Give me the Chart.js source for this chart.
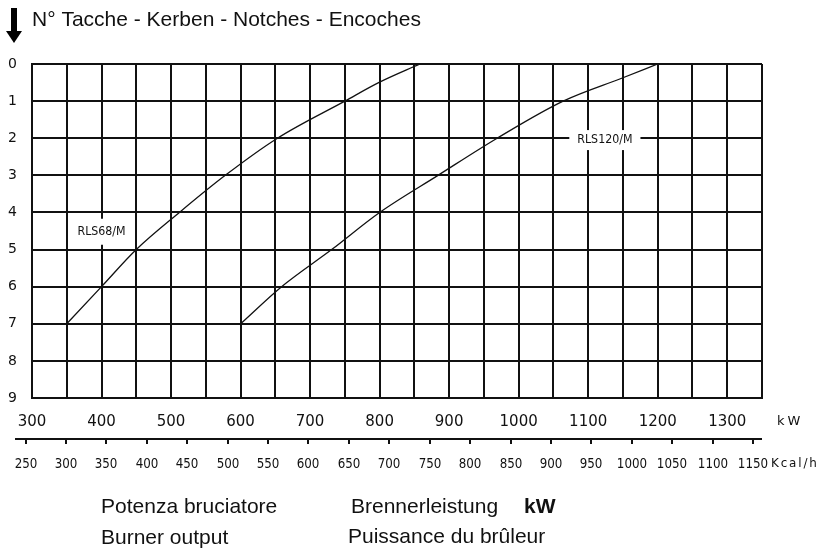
<!DOCTYPE html>
<html>
<head>
<meta charset="utf-8">
<script src="https://cdn.jsdelivr.net/npm/chart.js@4.4.1/dist/chart.umd.min.js"></script>
<style>
  html, body { margin: 0; padding: 0; background: #fff; }
  canvas { display: block; }
</style>
</head>
<body>
<canvas id="notchChart" width="821" height="549"></canvas>
<script>
// notch number (top = 0) against burner output
const notchLabels = ['0', '1', '2', '3', '4', '5', '6', '7', '8', '9'];
const kwTicks = [300, 400, 500, 600, 700, 800, 900, 1000, 1100, 1200, 1300];
const kcalTicks = [250, 300, 350, 400, 450, 500, 550, 600, 650, 700, 750, 800, 850, 900, 950, 1000, 1050, 1100, 1150];

const rls68Kw = [350, 400, 450, 512, 578, 653, 750, 800, 858];
const rls68Notch = [7, 6, 5, 4, 3, 2, 1, 0.49, 0];
const rls120Kw = [600, 659, 731, 800, 884, 969, 1064, 1150, 1200];
const rls120Notch = [7, 6, 5, 4, 3, 2, 1, 0.37, 0];

const curveLabels = [
  { text: 'RLS68/M', kw: 400, notch: 4.52, padX: 4, padY: 13 },
  { text: 'RLS120/M', kw: 1124, notch: 2.05, padX: 8, padY: 10 }
];

const KCAL_PER_KW = 0.86; // Mcal/h per kW
const ink = '#111';
const sansFont = '"Liberation Sans", Arial, sans-serif';
const cadFont = '"DejaVu Sans", sans-serif';

const toPoints = (xs, ys) => xs.map((x, i) => ({ x, y: ys[i] }));

// narrow CAD-like lettering: squeeze the text horizontally
const narrowText = (ctx, text, x, y, squeeze) => {
  ctx.save();
  ctx.translate(x, y);
  ctx.scale(squeeze, 1);
  ctx.fillText(text, 0, 0);
  ctx.restore();
};

const overlay = {
  id: 'overlay',
  afterDatasetsDraw(chart) {
    const { ctx, scales: { x, y } } = chart;
    ctx.save();
    ctx.textAlign = 'center';
    ctx.textBaseline = 'middle';
    ctx.font = '12px ' + cadFont;
    curveLabels.forEach(label => {
      const px = x.getPixelForValue(label.kw);
      const py = y.getPixelForValue(label.notch);
      const w = ctx.measureText(label.text).width * 0.92;
      ctx.fillStyle = '#fff';
      ctx.fillRect(px - w / 2 - label.padX, py - label.padY, w + label.padX * 2, label.padY * 2);
      ctx.fillStyle = ink;
      narrowText(ctx, label.text, px, py, 0.92);
    });
    ctx.restore();
  },
  afterDraw(chart) {
    const { ctx, chartArea, scales: { x } } = chart;
    ctx.save();

    // arrow
    ctx.fillStyle = '#000';
    ctx.fillRect(11, 8, 6, 24);
    ctx.beginPath();
    ctx.moveTo(6, 31);
    ctx.lineTo(22, 31);
    ctx.lineTo(14, 43);
    ctx.closePath();
    ctx.fill();

    ctx.fillStyle = ink;
    ctx.textBaseline = 'alphabetic';
    ctx.textAlign = 'left';
    ctx.font = '21px ' + sansFont;
    ctx.fillText('N° Tacche - Kerben - Notches - Encoches', 32, 26);

    // kcal/h axis
    const axisY = 439;
    const kcalToPx = v => x.getPixelForValue(v / KCAL_PER_KW);
    ctx.strokeStyle = ink;
    ctx.lineWidth = 2;
    ctx.beginPath();
    ctx.moveTo(kcalToPx(237), axisY);
    ctx.lineTo(chartArea.right, axisY);
    ctx.stroke();
    ctx.textAlign = 'center';
    ctx.textBaseline = 'middle';
    ctx.font = '14px ' + cadFont;
    kcalTicks.forEach(v => {
      const px = Math.round(kcalToPx(v));
      ctx.beginPath();
      ctx.moveTo(px, axisY);
      ctx.lineTo(px, axisY + 5);
      ctx.stroke();
      narrowText(ctx, String(v), px, 464, 0.85);
    });

    ctx.textAlign = 'left';
    ctx.letterSpacing = '3px';
    ctx.font = '13px ' + cadFont;
    ctx.fillText('kW', 777, 422);
    ctx.letterSpacing = '2px';
    narrowText(ctx, 'Kcal/h', 771, 464, 0.92);
    ctx.letterSpacing = '0px';

    ctx.textBaseline = 'alphabetic';
    ctx.font = '21px ' + sansFont;
    ctx.fillText('Potenza bruciatore', 101, 513);
    ctx.fillText('Burner output', 101, 544);
    ctx.fillText('Brennerleistung', 351, 513);
    ctx.fillText('Puissance du brûleur', 348, 543);
    ctx.font = 'bold 21px ' + sansFont;
    ctx.fillText('kW', 524, 513);

    ctx.restore();
  }
};

new Chart(document.getElementById('notchChart'), {
  type: 'scatter',
  data: {
    datasets: [
      {
        label: 'RLS68/M',
        data: toPoints(rls68Kw, rls68Notch),
        showLine: true,
        borderColor: ink,
        borderWidth: 1.3,
        pointRadius: 0,
        cubicInterpolationMode: 'monotone'
      },
      {
        label: 'RLS120/M',
        data: toPoints(rls120Kw, rls120Notch),
        showLine: true,
        borderColor: ink,
        borderWidth: 1.3,
        pointRadius: 0,
        cubicInterpolationMode: 'monotone'
      }
    ]
  },
  options: {
    responsive: false,
    animation: false,
    layout: {
      padding: { top: 64, right: 59, left: 0, bottom: 0 }
    },
    plugins: {
      legend: { display: false },
      tooltip: { enabled: false }
    },
    scales: {
      x: {
        type: 'linear',
        min: 300,
        max: 1350,
        afterFit: scale => { scale.height = 151; },
        border: { color: ink, width: 2 },
        grid: { color: ink, lineWidth: 2, drawTicks: false },
        ticks: {
          stepSize: 50,
          autoSkip: false,
          maxRotation: 0,
          padding: 15,
          color: ink,
          font: { family: cadFont, size: 15 },
          callback: value => kwTicks.includes(value) ? String(value) : ''
        }
      },
      y: {
        min: 0,
        max: 9,
        reverse: true,
        afterFit: scale => { scale.width = 32; },
        border: { color: ink, width: 2 },
        grid: { color: ink, lineWidth: 2, drawTicks: false },
        ticks: {
          stepSize: 1,
          padding: 15,
          color: ink,
          font: { family: cadFont, size: 14 },
          callback: value => notchLabels[value] ?? ''
        }
      }
    }
  },
  plugins: [overlay]
});
</script>
</body>
</html>
